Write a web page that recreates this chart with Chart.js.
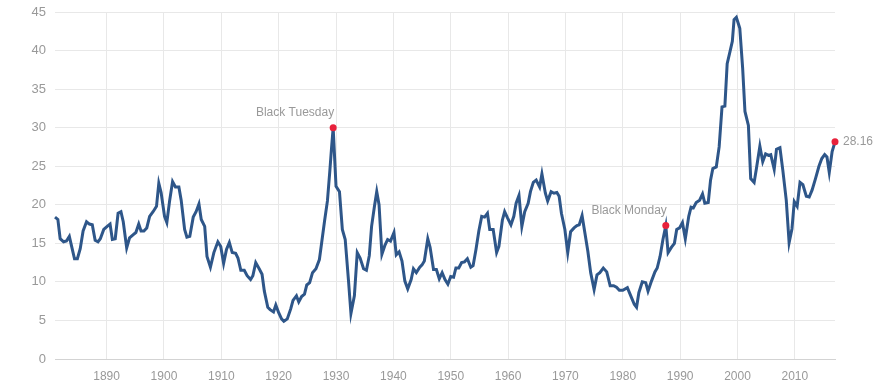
<!DOCTYPE html>
<html>
<head>
<meta charset="utf-8">
<script src="https://cdn.jsdelivr.net/npm/chart.js@4"></script>
<style>
html,body{margin:0;padding:0;background:#fff;}
#wrap{width:890px;height:384px;position:relative;}
</style>
</head>
<body>
<div id="wrap"><canvas id="c" width="890" height="384"></canvas></div>
<script>
const years = [1881.0,1881.5,1881.9,1882.5,1883.0,1883.5,1883.9,1884.4,1884.9,1885.4,1885.9,1886.5,1887.0,1887.5,1888.0,1888.5,1888.9,1889.5,1890.1,1890.6,1891.0,1891.5,1892.0,1892.5,1892.9,1893.5,1894.0,1894.6,1895.1,1895.6,1896.0,1896.5,1897.0,1897.5,1898.1,1898.7,1899.1,1899.5,1900.1,1900.5,1901.0,1901.5,1902.0,1902.6,1903.0,1903.6,1904.0,1904.5,1905.1,1905.6,1906.1,1906.5,1907.1,1907.5,1908.1,1908.7,1909.4,1909.9,1910.4,1910.9,1911.4,1911.9,1912.5,1912.9,1913.4,1914.0,1914.5,1915.1,1915.5,1916.0,1916.6,1917.1,1917.5,1918.1,1918.5,1919.1,1919.5,1920.0,1920.5,1920.9,1921.5,1922.1,1922.5,1923.1,1923.5,1924.0,1924.5,1924.9,1925.4,1925.9,1926.5,1927.1,1927.5,1928.0,1928.5,1928.9,1929.2,1929.5,1930.0,1930.6,1931.1,1931.6,1932.2,1932.6,1933.2,1933.7,1934.2,1934.8,1935.3,1935.8,1936.2,1936.7,1937.1,1937.5,1938.0,1938.5,1939.0,1939.5,1940.1,1940.5,1941.0,1941.5,1942.0,1942.5,1943.1,1943.5,1944.0,1944.6,1945.0,1945.4,1946.0,1946.4,1947.0,1947.5,1948.0,1948.5,1949.0,1949.5,1950.0,1950.5,1950.9,1951.4,1951.9,1952.4,1952.9,1953.5,1953.9,1954.4,1954.9,1955.4,1955.9,1956.4,1956.8,1957.4,1958.0,1958.4,1959.0,1959.4,1959.9,1960.5,1961.0,1961.4,1961.9,1962.4,1962.9,1963.5,1963.9,1964.4,1964.9,1965.5,1965.9,1966.5,1966.9,1967.5,1968.0,1968.5,1968.9,1969.3,1969.9,1970.4,1970.9,1971.5,1972.0,1972.4,1972.9,1973.4,1973.9,1974.4,1975.0,1975.5,1976.0,1976.6,1977.2,1977.8,1978.4,1978.9,1979.4,1980.0,1980.8,1981.5,1982.0,1982.4,1982.8,1983.4,1984.0,1984.4,1985.0,1985.6,1986.0,1986.5,1987.0,1987.5,1987.9,1988.5,1989.0,1989.4,1989.9,1990.4,1990.9,1991.5,1991.9,1992.3,1992.8,1993.4,1993.9,1994.3,1994.9,1995.3,1995.7,1996.3,1996.8,1997.3,1997.8,1998.2,1998.7,1999.1,1999.4,1999.8,2000.4,2000.9,2001.3,2001.9,2002.3,2002.9,2003.3,2003.9,2004.4,2004.9,2005.4,2005.8,2006.4,2006.8,2007.4,2007.9,2008.5,2009.0,2009.5,2009.9,2010.4,2010.9,2011.4,2012.0,2012.5,2013.0,2013.6,2014.2,2014.7,2015.2,2015.6,2016.0,2016.5,2017.0];
const cape = [18.4,18.1,15.6,15.2,15.3,15.9,14.6,13.0,13.0,14.3,16.6,17.8,17.5,17.4,15.4,15.2,15.6,16.8,17.2,17.5,15.5,15.6,18.9,19.1,17.8,14.4,15.7,16.1,16.4,17.5,16.6,16.6,17.0,18.5,19.1,19.8,22.8,21.6,18.5,17.7,20.6,23.0,22.3,22.3,20.6,16.8,15.8,15.9,18.4,19.1,20.1,18.1,17.2,13.3,11.9,13.8,15.2,14.6,12.4,14.2,15.1,13.8,13.7,13.1,11.5,11.5,10.8,10.3,10.8,12.5,11.7,11.0,8.8,6.7,6.4,6.1,7.0,6.0,5.2,4.9,5.2,6.5,7.6,8.2,7.4,8.1,8.4,9.6,9.9,11.2,11.7,12.9,15.1,17.9,20.5,24.2,27.2,29.98,22.4,21.7,16.8,15.5,9.9,5.9,8.2,13.8,13.1,11.7,11.5,13.4,17.2,19.8,21.7,20.0,13.6,14.7,15.5,15.3,16.4,13.5,13.9,12.7,10.1,9.1,10.3,11.7,11.2,11.9,12.2,12.7,15.6,14.5,11.6,11.6,10.4,11.2,10.3,9.7,10.7,10.6,11.8,11.8,12.5,12.6,13.0,11.9,12.1,14.2,16.6,18.5,18.4,18.9,16.8,16.8,13.8,14.6,18.0,19.1,18.3,17.4,18.5,20.2,21.2,17.2,19.1,20.2,21.7,22.9,23.2,22.3,24.0,21.5,20.5,21.7,21.5,21.6,21.1,18.9,16.8,13.8,16.5,17.0,17.3,17.4,18.6,16.3,14.0,11.2,9.0,10.9,11.2,11.8,11.3,9.5,9.5,9.3,8.9,8.9,9.25,8.0,7.1,6.7,8.6,10.0,9.9,8.8,10.1,11.3,11.8,13.3,15.5,17.3,13.8,14.5,15.0,16.8,17.0,17.7,15.6,18.5,19.7,19.6,20.3,20.6,21.4,20.2,20.3,23.2,24.7,24.9,27.5,32.7,32.8,38.3,39.9,41.2,44.0,44.3,42.9,37.7,32.1,30.3,23.4,22.9,24.7,27.6,25.6,26.6,26.4,26.5,24.6,27.2,27.4,24.5,20.6,15.1,16.9,20.4,19.8,22.9,22.6,21.1,21.0,21.9,23.4,25.0,26.0,26.5,26.2,24.2,26.9,28.16];

const markYears = [1929.5, 1987.5, 2017.0];
const markValues = [29.98, 17.3, 28.16];
const markLabels = ["Black Tuesday", "Black Monday", "28.16"];

const xTicks = [1890,1900,1910,1920,1930,1940,1950,1960,1970,1980,1990,2000,2010];
const yTicks = [0,5,10,15,20,25,30,35,40,45];

const lineData = years.map((y,i)=>({x:y, y:cape[i]}));
const markData = markYears.map((y,i)=>({x:y, y:markValues[i]}));

const labelPlugin = {
  id:'labels',
  afterDatasetsDraw(chart){
    const ctx = chart.ctx, xs = chart.scales.x, ys = chart.scales.y;
    ctx.save();
    ctx.font = '12px "Liberation Sans", Arial, sans-serif';
    ctx.fillStyle = '#999';
    ctx.textBaseline = 'middle';
    markLabels.forEach((t,i)=>{
      const px = xs.getPixelForValue(markYears[i]);
      const py = ys.getPixelForValue(markValues[i]);
      if (i === markLabels.length-1) {
        ctx.textAlign = 'left';
        ctx.fillText(t, px+8, py);
      } else {
        ctx.textAlign = 'right';
        ctx.fillText(t, px+1, py-15);
      }
    });
    ctx.restore();
  }
};

new Chart(document.getElementById('c'), {
  type:'line',
  data:{datasets:[
    {data:markData, showLine:false, clip:false, pointRadius:3.5, pointBackgroundColor:'#e8213b', pointBorderColor:'#e8213b', pointBorderWidth:0},
    {data:lineData, borderColor:'#2e5689', borderWidth:3, pointRadius:0, tension:0, fill:false, clip:false}
  ]},
  options:{
    responsive:false,
    animation:false,
    events:[],
    layout:{padding:{top:12,right:55,left:0,bottom:0}},
    plugins:{legend:{display:false},tooltip:{enabled:false}},
    scales:{
      x:{type:'linear', min:1881, max:2017,
        afterBuildTicks(s){ s.ticks = xTicks.map(v=>({value:v})); },
        afterFit(s){ s.height = 25; s.paddingLeft = 0; s.paddingRight = 0; },
        grid:{color:'#e8e8e8', lineWidth:1, drawTicks:false},
        border:{display:true, color:'#d3d3d3', width:1},
        ticks:{color:'#999', padding:10, font:{size:12, family:'"Liberation Sans", Arial, sans-serif'}, maxRotation:0, autoSkip:false, callback:v=>String(v)}
      },
      y:{type:'linear', min:0, max:45,
        afterBuildTicks(s){ s.ticks = yTicks.map(v=>({value:v})); },
        afterFit(s){ s.width = 55; s.paddingTop = 0; s.paddingBottom = 0; },
        grid:{color:'#e8e8e8', lineWidth:1, drawTicks:false},
        border:{display:false},
        ticks:{color:'#999', padding:9, font:{size:13, family:'"Liberation Sans", Arial, sans-serif'}, callback:v=>String(v)}
      }
    }
  },
  plugins:[labelPlugin]
});
</script>
</body>
</html>
